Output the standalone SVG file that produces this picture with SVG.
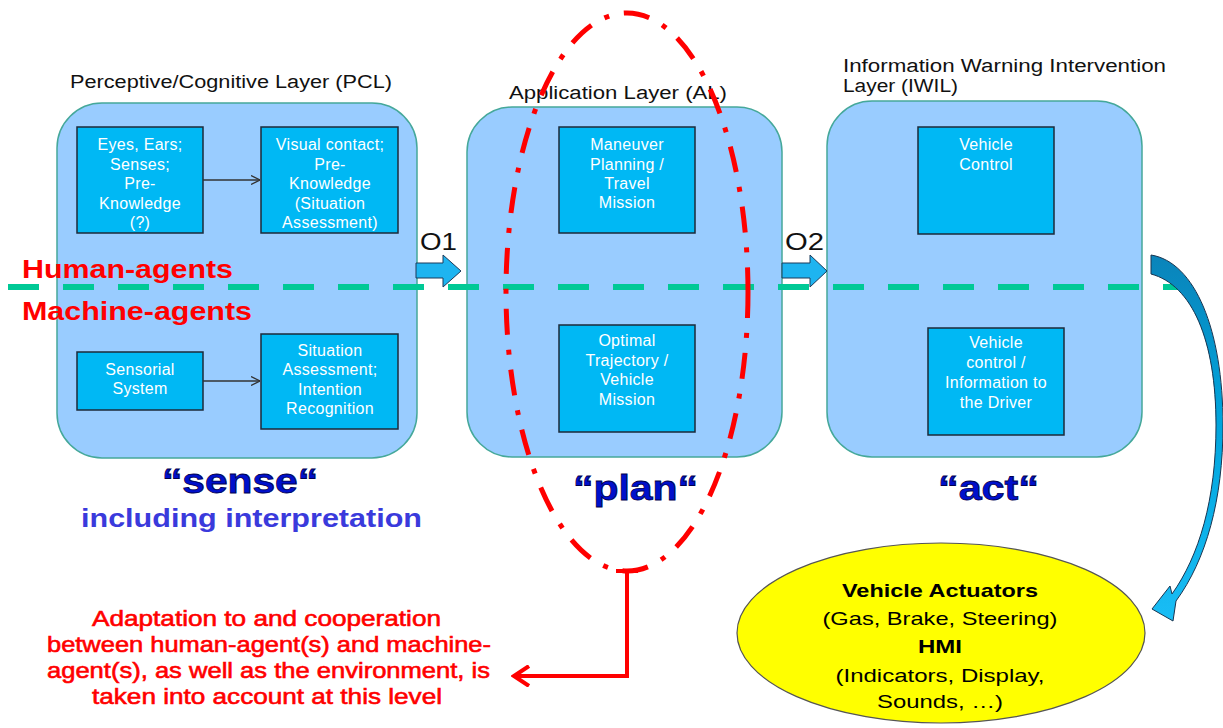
<svg xmlns="http://www.w3.org/2000/svg" width="1223" height="728" viewBox="0 0 1223 728">
<defs>
<style>
.layer{fill:#99CCFF;stroke:#45A89A;stroke-width:1.5}
.box{fill:#00B8F4;stroke:#1C2A3A;stroke-width:1.5}
.bt{font-family:"Liberation Sans",Arial,sans-serif;font-size:16px;fill:#fff;text-anchor:middle;letter-spacing:0.3px}
.title{font-family:"Liberation Sans",Arial,sans-serif;font-size:18px;fill:#111}
.ag{font-family:"Liberation Sans",Arial,sans-serif;font-size:26px;font-weight:bold;fill:#FF0000}
.big{font-family:"Liberation Sans",Arial,sans-serif;font-size:35px;font-weight:bold;fill:#0010CC;stroke:#000050;stroke-width:0.8}
.incl{font-family:"Liberation Sans",Arial,sans-serif;font-size:26px;font-weight:bold;fill:#3A3ADC}
.o{font-family:"Liberation Sans",Arial,sans-serif;font-size:24px;fill:#111}
.blk{fill:#1EB4F0;stroke:#1C3A5A;stroke-width:1}
.red{font-family:"Liberation Sans",Arial,sans-serif;font-size:22px;fill:#FF0000;stroke:#FF0000;stroke-width:0.6}
.el{font-family:"Liberation Sans",Arial,sans-serif;font-size:19px;fill:#000;text-anchor:middle}
.elb{font-weight:bold}
.thin{stroke:#333;stroke-width:1.3;fill:none}
</style>
<marker id="ah" viewBox="0 0 10 10" refX="10" refY="5" markerWidth="9" markerHeight="10" markerUnits="userSpaceOnUse" orient="auto">
<path d="M0,0 L10,5 L0,10" fill="none" stroke="#333" stroke-width="1.4"/>
</marker>
<marker id="rah" viewBox="0 0 20 22" refX="17" refY="11" markerWidth="20" markerHeight="22" markerUnits="userSpaceOnUse" orient="auto">
<path d="M2,1 L17,11 L2,21" fill="none" stroke="#FF0000" stroke-width="4"/>
</marker>
<linearGradient id="cg" gradientUnits="userSpaceOnUse" x1="0" y1="255" x2="0" y2="620">
<stop offset="0" stop-color="#0A84BA"/>
<stop offset="0.45" stop-color="#00A4DC"/>
<stop offset="1" stop-color="#19BDF5"/>
</linearGradient>
</defs>
<rect width="1223" height="728" fill="#fff"/>

<g id="pcl">
<rect class="layer" x="57" y="103" width="360" height="355" rx="45"/>
<text class="title" x="70" y="88" textLength="322" lengthAdjust="spacingAndGlyphs">Perceptive/Cognitive Layer (PCL)</text>
</g>
<g id="al">
<rect class="layer" x="467" y="107" width="315" height="350" rx="45"/>
<text class="title" x="509" y="99" textLength="218" lengthAdjust="spacingAndGlyphs">Application Layer (AL)</text>
</g>
<g id="iwil">
<rect class="layer" x="827" y="101" width="315" height="356" rx="45"/>
<text class="title" x="843" y="72" textLength="323" lengthAdjust="spacingAndGlyphs">Information Warning Intervention</text>
<text class="title" x="843" y="92" textLength="115" lengthAdjust="spacingAndGlyphs">Layer (IWIL)</text>
</g>

<g id="eyes">
<rect class="box" x="77" y="127" width="126" height="106"/>
<text class="bt" x="140" y="150">Eyes, Ears;</text>
<text class="bt" x="140" y="170">Senses;</text>
<text class="bt" x="140" y="189">Pre-</text>
<text class="bt" x="140" y="209">Knowledge</text>
<text class="bt" x="140" y="228">(?)</text>
</g>
<g id="visual">
<rect class="box" x="261" y="127" width="137" height="106"/>
<text class="bt" x="330" y="150">Visual contact;</text>
<text class="bt" x="330" y="170">Pre-</text>
<text class="bt" x="330" y="189">Knowledge</text>
<text class="bt" x="330" y="209">(Situation</text>
<text class="bt" x="330" y="228">Assessment)</text>
</g>
<g id="sensorial">
<rect class="box" x="77" y="352" width="126" height="58"/>
<text class="bt" x="140" y="375">Sensorial</text>
<text class="bt" x="140" y="394">System</text>
</g>
<g id="situation">
<rect class="box" x="261" y="334" width="137" height="95"/>
<text class="bt" x="330" y="356">Situation</text>
<text class="bt" x="330" y="375">Assessment;</text>
<text class="bt" x="330" y="395">Intention</text>
<text class="bt" x="330" y="414">Recognition</text>
</g>
<g id="maneuver">
<rect class="box" x="559" y="127" width="136" height="106"/>
<text class="bt" x="627" y="150">Maneuver</text>
<text class="bt" x="627" y="170">Planning /</text>
<text class="bt" x="627" y="189">Travel</text>
<text class="bt" x="627" y="208">Mission</text>
</g>
<g id="optimal">
<rect class="box" x="559" y="325" width="136" height="107"/>
<text class="bt" x="627" y="346">Optimal</text>
<text class="bt" x="627" y="366">Trajectory /</text>
<text class="bt" x="627" y="385">Vehicle</text>
<text class="bt" x="627" y="405">Mission</text>
</g>
<g id="vcontrol">
<rect class="box" x="918" y="127" width="136" height="107"/>
<text class="bt" x="986" y="150">Vehicle</text>
<text class="bt" x="986" y="170">Control</text>
</g>
<g id="vinfo">
<rect class="box" x="928" y="328" width="136" height="107"/>
<text class="bt" x="996" y="348">Vehicle</text>
<text class="bt" x="996" y="368">control /</text>
<text class="bt" x="996" y="388">Information to</text>
<text class="bt" x="996" y="408">the Driver</text>
</g>

<g id="divider">
<line x1="8" y1="287" x2="1192" y2="287" stroke="#00C996" stroke-width="6" stroke-dasharray="31 24"/>
<text class="ag" x="22" y="278" textLength="211" lengthAdjust="spacingAndGlyphs">Human-agents</text>
<text class="ag" x="22" y="320" textLength="230" lengthAdjust="spacingAndGlyphs">Machine-agents</text>
</g>

<g id="connectors">
<line class="thin" x1="203" y1="180" x2="260" y2="180" marker-end="url(#ah)"/>
<line class="thin" x1="203" y1="381" x2="260" y2="381" marker-end="url(#ah)"/>
<polygon class="blk" points="416,263 443,263 443,255 461,271 443,287 443,278 416,278"/>
<polygon class="blk" points="782,263 810,263 810,255 827,271 810,287 810,278 782,278"/>
<text class="o" x="420" y="250" textLength="37" lengthAdjust="spacingAndGlyphs">O1</text>
<text class="o" x="785" y="250" textLength="39" lengthAdjust="spacingAndGlyphs">O2</text>
<path d="M1151,255 C1195,262 1223,330 1223,425 C1223,500 1206,560 1176,601 L1173,621 L1152,609 L1170,586 L1172,594 C1199,556 1216,500 1216,425 C1216,340 1192,285 1151,274 Z" fill="url(#cg)" stroke="#1A3550" stroke-width="1"/>
<path d="M627,571 L627,676 L514,676" fill="none" stroke="#FF0000" stroke-width="4" marker-end="url(#rah)"/>
<line x1="616" y1="571" x2="638" y2="571" stroke="#FF0000" stroke-width="4"/>
</g>

<g id="focus">
<ellipse cx="627" cy="292" rx="121" ry="279" fill="none" stroke="#FF0000" stroke-width="5" stroke-dasharray="26 15 5 15"/>
</g>

<g id="labels">
<text class="big" x="162" y="493" textLength="156" lengthAdjust="spacingAndGlyphs">“sense“</text>
<text class="incl" x="81" y="527" textLength="341" lengthAdjust="spacingAndGlyphs">including interpretation</text>
<text class="big" x="573" y="500" textLength="125" lengthAdjust="spacingAndGlyphs">“plan“</text>
<text class="big" x="938" y="500" textLength="101" lengthAdjust="spacingAndGlyphs">“act“</text>
</g>

<g id="note">
<text class="red" x="92" y="626" textLength="349" lengthAdjust="spacingAndGlyphs">Adaptation to and cooperation</text>
<text class="red" x="47" y="652" textLength="444" lengthAdjust="spacingAndGlyphs">between human-agent(s) and machine-</text>
<text class="red" x="47" y="678" textLength="443" lengthAdjust="spacingAndGlyphs">agent(s), as well as the environment, is</text>
<text class="red" x="92" y="704" textLength="350" lengthAdjust="spacingAndGlyphs">taken into account at this level</text>
</g>

<g id="actuators">
<ellipse cx="941" cy="633" rx="204" ry="90" fill="#FFFF00" stroke="#555" stroke-width="1.2"/>
<text class="el elb" x="940" y="597" textLength="196" lengthAdjust="spacingAndGlyphs">Vehicle Actuators</text>
<text class="el" x="940" y="625" textLength="235" lengthAdjust="spacingAndGlyphs">(Gas, Brake, Steering)</text>
<text class="el elb" x="940" y="653" textLength="44" lengthAdjust="spacingAndGlyphs">HMI</text>
<text class="el" x="940" y="682" textLength="209" lengthAdjust="spacingAndGlyphs">(Indicators, Display,</text>
<text class="el" x="940" y="708" textLength="126" lengthAdjust="spacingAndGlyphs">Sounds, …)</text>
</g>
</svg>
